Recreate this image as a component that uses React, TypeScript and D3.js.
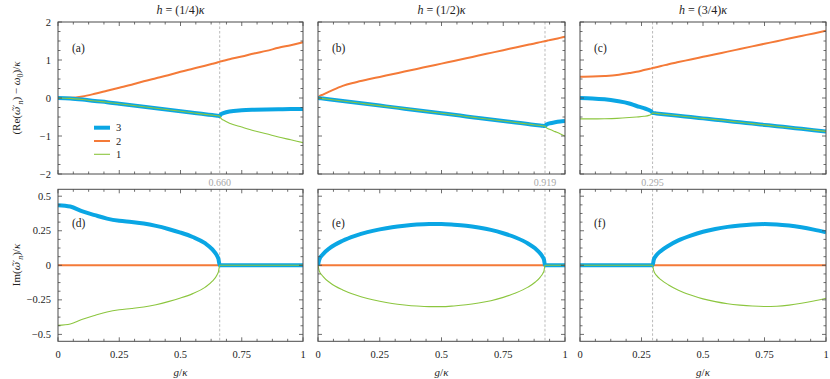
import * as d3 from "d3";

// ==== values ====
// mode 3 = blue (thick), mode 2 = orange, mode 1 = green (thin)

// h = (1/4) kappa
const G_A = [0, 0.05, 0.1, 0.15, 0.2, 0.25, 0.3, 0.35, 0.4, 0.45, 0.5, 0.55, 0.6, 0.63, 0.65, 0.655, 0.66, 0.665, 0.675, 0.7, 0.75, 0.8, 0.85, 0.9, 0.95, 1];
const RE_A_2 = [0, 0.005, 0.04, 0.11, 0.19, 0.27, 0.35, 0.44, 0.52, 0.6, 0.69, 0.77, 0.85, 0.9, 0.935, 0.945, 0.955, 0.965, 0.98, 1.02, 1.09, 1.17, 1.24, 1.32, 1.39, 1.465];
const RE_A_3 = [0, -0.01, -0.04, -0.08, -0.11, -0.15, -0.19, -0.23, -0.27, -0.31, -0.35, -0.39, -0.43, -0.45, -0.465, -0.47, -0.475, -0.43, -0.4, -0.355, -0.325, -0.31, -0.3, -0.295, -0.29, -0.29];
const RE_A_1 = [0, -0.01, -0.04, -0.08, -0.11, -0.15, -0.19, -0.23, -0.27, -0.31, -0.35, -0.39, -0.43, -0.45, -0.465, -0.47, -0.475, -0.535, -0.58, -0.665, -0.765, -0.86, -0.94, -1.025, -1.1, -1.175];
const IM_A_3 = [0.435, 0.425, 0.39, 0.363, 0.338, 0.322, 0.313, 0.302, 0.285, 0.263, 0.237, 0.205, 0.16, 0.115, 0.066, 0.045, 0, 0, 0, 0, 0, 0, 0, 0, 0, 0];
const IM_A_1 = [-0.435, -0.425, -0.39, -0.363, -0.338, -0.322, -0.313, -0.302, -0.285, -0.263, -0.237, -0.205, -0.16, -0.115, -0.066, -0.045, 0, 0, 0, 0, 0, 0, 0, 0, 0, 0];

// h = (1/2) kappa
const G_B = [0, 0.005, 0.02, 0.05, 0.1, 0.15, 0.2, 0.25, 0.3, 0.35, 0.4, 0.45, 0.5, 0.55, 0.6, 0.65, 0.7, 0.75, 0.8, 0.85, 0.88, 0.9, 0.91, 0.915, 0.919, 0.923, 0.93, 0.94, 0.96, 0.98, 1];
const RE_B_2 = [0, 0.04, 0.09, 0.18, 0.32, 0.41, 0.485, 0.555, 0.625, 0.695, 0.765, 0.835, 0.905, 0.975, 1.045, 1.118, 1.188, 1.258, 1.33, 1.4, 1.44, 1.47, 1.483, 1.49, 1.496, 1.502, 1.512, 1.526, 1.554, 1.582, 1.61];
const RE_B_3 = [0, -0.004, -0.016, -0.04, -0.08, -0.12, -0.16, -0.2, -0.24, -0.28, -0.32, -0.36, -0.4, -0.44, -0.485, -0.525, -0.565, -0.605, -0.645, -0.685, -0.71, -0.725, -0.733, -0.737, -0.74, -0.71, -0.685, -0.665, -0.64, -0.62, -0.605];
const RE_B_1 = [0, -0.004, -0.016, -0.04, -0.08, -0.12, -0.16, -0.2, -0.24, -0.28, -0.32, -0.36, -0.4, -0.44, -0.485, -0.525, -0.565, -0.605, -0.645, -0.685, -0.71, -0.725, -0.733, -0.737, -0.74, -0.775, -0.8, -0.83, -0.885, -0.94, -1.0];
const IM_B_3 = [0, 0.04, 0.08, 0.128, 0.178, 0.213, 0.24, 0.26, 0.276, 0.287, 0.295, 0.299, 0.299, 0.294, 0.286, 0.273, 0.256, 0.232, 0.201, 0.158, 0.121, 0.085, 0.059, 0.04, 0, 0, 0, 0, 0, 0, 0];
const IM_B_1 = [0, -0.04, -0.08, -0.128, -0.178, -0.213, -0.24, -0.26, -0.276, -0.287, -0.295, -0.299, -0.299, -0.294, -0.286, -0.273, -0.256, -0.232, -0.201, -0.158, -0.121, -0.085, -0.059, -0.04, 0, 0, 0, 0, 0, 0, 0];

// h = (3/4) kappa
const G_C = [0, 0.05, 0.1, 0.15, 0.2, 0.23, 0.26, 0.28, 0.29, 0.295, 0.3, 0.31, 0.33, 0.36, 0.4, 0.45, 0.5, 0.55, 0.6, 0.65, 0.7, 0.75, 0.8, 0.85, 0.9, 0.95, 1];
const RE_C_2 = [0.56, 0.565, 0.58, 0.605, 0.655, 0.69, 0.735, 0.765, 0.78, 0.79, 0.797, 0.81, 0.84, 0.89, 0.946, 1.014, 1.083, 1.152, 1.22, 1.289, 1.358, 1.427, 1.495, 1.565, 1.633, 1.7, 1.77];
const RE_C_3 = [0, -0.01, -0.035, -0.08, -0.145, -0.21, -0.268, -0.317, -0.352, -0.395, -0.398, -0.405, -0.419, -0.44, -0.467, -0.502, -0.536, -0.57, -0.605, -0.639, -0.674, -0.708, -0.742, -0.777, -0.811, -0.846, -0.88];
const RE_C_1 = [-0.55, -0.55, -0.545, -0.535, -0.515, -0.5, -0.482, -0.457, -0.432, -0.395, -0.398, -0.405, -0.419, -0.44, -0.467, -0.502, -0.536, -0.57, -0.605, -0.639, -0.674, -0.708, -0.742, -0.777, -0.811, -0.846, -0.88];
const IM_C_3 = [0, 0, 0, 0, 0, 0, 0, 0, 0, 0, 0.041, 0.071, 0.106, 0.142, 0.18, 0.215, 0.243, 0.263, 0.278, 0.288, 0.295, 0.298, 0.296, 0.288, 0.275, 0.258, 0.238];
const IM_C_1 = [0, 0, 0, 0, 0, 0, 0, 0, 0, 0, -0.041, -0.071, -0.106, -0.142, -0.18, -0.215, -0.243, -0.263, -0.278, -0.288, -0.295, -0.298, -0.296, -0.288, -0.275, -0.258, -0.238];

// mode 2 stays real everywhere
const IM_2_G = [0, 1];
const IM_2 = [0, 0];

const H_LABELS = ["1/4", "1/2", "3/4"];
const EP_G = [0.66, 0.919, 0.295];
const EP_LABELS = ["0.660", "0.919", "0.295"];
const TAGS_TOP = ["(a)", "(b)", "(c)"];
const TAGS_BOTTOM = ["(d)", "(e)", "(f)"];

const X_TICKS = [0, 0.25, 0.5, 0.75, 1];
const X_TICK_LABELS = ["0", "0.25", "0.5", "0.75", "1"];
const RE_TICKS = [-2, -1, 0, 1, 2];
const RE_TICK_LABELS = ["\u22122", "\u22121", "0", "1", "2"];
const IM_TICKS = [-0.5, -0.25, 0, 0.25, 0.5];
const IM_TICK_LABELS = ["\u22120.5", "\u22120.25", "0", "0.25", "0.5"];

const LEGEND = ["3", "2", "1"];

// ==== look ====
const W = 830;
const H = 379;
const FONT = '"Liberation Serif", "DejaVu Serif", serif';
const SYMBOL_FONT = '"DejaVu Serif", serif'; // handles the combining tilde
const FRAME = "#4a4a4a";
const GRID_GRAY = "#a8a8a8";

const COLORS: Record<string, string> = { "3": "#0aa6e4", "2": "#f47a38", "1": "#8cc63f" };
const WIDTHS: Record<string, number> = { "3": 4, "2": 2, "1": 1.1 };
const DRAW_ORDER = ["2", "3", "1"];

const COL_X = [
  [58, 303],
  [318, 565],
  [580, 826],
];
const ROW_Y = [
  [22, 174],
  [189.3, 341.3],
];

const COLUMNS = [
  { g: G_A, re: { "3": RE_A_3, "2": RE_A_2, "1": RE_A_1 }, im: { "3": IM_A_3, "1": IM_A_1 } },
  { g: G_B, re: { "3": RE_B_3, "2": RE_B_2, "1": RE_B_1 }, im: { "3": IM_B_3, "1": IM_B_1 } },
  { g: G_C, re: { "3": RE_C_3, "2": RE_C_2, "1": RE_C_1 }, im: { "3": IM_C_3, "1": IM_C_1 } },
];

type Series = { key: string; pts: [number, number][] };

const TXT = { fontFamily: FONT, fill: "#222" };

function Panel(props: {
  id: string;
  xr: number[];
  yr: number[];
  yDomain: [number, number];
  yTicks: number[];
  yMinorStep: number;
  yLabels: string[];
  showY: boolean;
  showX: boolean;
  series: Series[];
  ep: number;
  tag: string;
  tagDy: number;
  legend?: boolean;
}) {
  const { id, xr, yr, yDomain, yTicks, yMinorStep, yLabels, showY, showX, series, ep, tag, tagDy, legend } = props;
  const x = d3.scaleLinear().domain([0, 1]).range([xr[0], xr[1]]);
  const y = d3.scaleLinear().domain(yDomain).range([yr[1], yr[0]]);
  const line = d3
    .line<[number, number]>()
    .curve(d3.curveMonotoneX)
    .x((d) => x(d[0]))
    .y((d) => y(d[1]));

  const xMinor = d3.range(0, 1.0001, 1 / 16).filter((v) => !X_TICKS.some((t) => Math.abs(t - v) < 1e-6));
  const start = Math.ceil(yDomain[0] / yMinorStep) * yMinorStep;
  const yMinor = d3
    .range(start, yDomain[1] + 1e-6, yMinorStep)
    .filter((v) => !yTicks.some((t) => Math.abs(t - v) < 1e-6));

  const maj = 4;
  const min = 2.5;

  return (
    <g>
      <defs>
        <clipPath id={id}>
          <rect x={xr[0]} y={yr[0]} width={xr[1] - xr[0]} height={yr[1] - yr[0]} />
        </clipPath>
      </defs>

      {/* exceptional point marker */}
      <line
        x1={x(ep)}
        x2={x(ep)}
        y1={yr[0]}
        y2={yr[1]}
        stroke={GRID_GRAY}
        strokeWidth={0.8}
        strokeDasharray="2.5 2"
      />

      <g clipPath={`url(#${id})`}>
        {series.map((s) => (
          <path
            key={s.key}
            d={line(s.pts) || ""}
            fill="none"
            stroke={COLORS[s.key]}
            strokeWidth={WIDTHS[s.key]}
            strokeLinejoin="round"
          />
        ))}
      </g>

      {/* ticks, all four sides, pointing in */}
      <g stroke={FRAME} strokeWidth={0.8}>
        {X_TICKS.map((t) => (
          <g key={"xm" + t}>
            <line x1={x(t)} x2={x(t)} y1={yr[1]} y2={yr[1] - maj} />
            <line x1={x(t)} x2={x(t)} y1={yr[0]} y2={yr[0] + maj} />
          </g>
        ))}
        {xMinor.map((t) => (
          <g key={"xn" + t}>
            <line x1={x(t)} x2={x(t)} y1={yr[1]} y2={yr[1] - min} />
            <line x1={x(t)} x2={x(t)} y1={yr[0]} y2={yr[0] + min} />
          </g>
        ))}
        {yTicks.map((t) => (
          <g key={"ym" + t}>
            <line x1={xr[0]} x2={xr[0] + maj} y1={y(t)} y2={y(t)} />
            <line x1={xr[1]} x2={xr[1] - maj} y1={y(t)} y2={y(t)} />
          </g>
        ))}
        {yMinor.map((t) => (
          <g key={"yn" + t}>
            <line x1={xr[0]} x2={xr[0] + min} y1={y(t)} y2={y(t)} />
            <line x1={xr[1]} x2={xr[1] - min} y1={y(t)} y2={y(t)} />
          </g>
        ))}
      </g>

      <rect
        x={xr[0]}
        y={yr[0]}
        width={xr[1] - xr[0]}
        height={yr[1] - yr[0]}
        fill="none"
        stroke={FRAME}
        strokeWidth={1}
      />

      {showY &&
        yTicks.map((t, i) => (
          <text key={"yl" + t} x={xr[0] - 7} y={y(t) + 3.6} textAnchor="end" fontSize={10.5} style={TXT}>
            {yLabels[i]}
          </text>
        ))}
      {showX &&
        X_TICKS.map((t, i) => (
          <text key={"xl" + t} x={x(t)} y={yr[1] + 17} textAnchor="middle" fontSize={10.5} style={TXT}>
            {X_TICK_LABELS[i]}
          </text>
        ))}

      <text x={xr[0] + 14} y={yr[0] + tagDy} fontSize={11.5} style={TXT}>
        {tag}
      </text>

      {legend &&
        LEGEND.map((k, i) => (
          <g key={"lg" + k}>
            <line
              x1={94}
              x2={110}
              y1={127.7 + i * 13.3}
              y2={127.7 + i * 13.3}
              stroke={COLORS[k]}
              strokeWidth={WIDTHS[k]}
            />
            <text x={116} y={131.3 + i * 13.3} fontSize={10.5} style={TXT}>
              {k}
            </text>
          </g>
        ))}
    </g>
  );
}

export default function App() {
  return (
    <svg
      width={W}
      height={H}
      viewBox={`0 0 ${W} ${H}`}
      style={{ position: "absolute", left: 0, top: 0, background: "#fff", fontFamily: FONT }}
    >
      {COLUMNS.map((col, c) => {
        const reSeries: Series[] = DRAW_ORDER.map((k) => ({
          key: k,
          pts: col.g.map((g, i) => [g, (col.re as any)[k][i]] as [number, number]),
        }));
        const imSeries: Series[] = DRAW_ORDER.map((k) => ({
          key: k,
          pts:
            k === "2"
              ? IM_2_G.map((g, i) => [g, IM_2[i]] as [number, number])
              : col.g.map((g, i) => [g, (col.im as any)[k][i]] as [number, number]),
        }));
        const xr = COL_X[c];
        const cx = (xr[0] + xr[1]) / 2;
        const epX = d3.scaleLinear().domain([0, 1]).range([xr[0], xr[1]])(EP_G[c]);
        return (
          <g key={c}>
            <text x={cx} y={14} textAnchor="middle" fontSize={12} style={TXT}>
              <tspan fontStyle="italic">h</tspan>
              {" = (" + H_LABELS[c] + ")"}
              <tspan fontStyle="italic">κ</tspan>
            </text>
            <Panel
              id={"clipT" + c}
              xr={xr}
              yr={ROW_Y[0]}
              yDomain={[-2, 2]}
              yTicks={RE_TICKS}
              yMinorStep={0.25}
              yLabels={RE_TICK_LABELS}
              showY={c === 0}
              showX={false}
              series={reSeries}
              ep={EP_G[c]}
              tag={TAGS_TOP[c]}
              tagDy={30}
              legend={c === 0}
            />
            <Panel
              id={"clipB" + c}
              xr={xr}
              yr={ROW_Y[1]}
              yDomain={[-0.55, 0.55]}
              yTicks={IM_TICKS}
              yMinorStep={0.0625}
              yLabels={IM_TICK_LABELS}
              showY={c === 0}
              showX={true}
              series={imSeries}
              ep={EP_G[c]}
              tag={TAGS_BOTTOM[c]}
              tagDy={38}
            />
            <text x={epX} y={186} textAnchor="middle" fontSize={10} style={{ fontFamily: FONT, fill: GRID_GRAY }}>
              {EP_LABELS[c]}
            </text>
            <text x={cx} y={376} textAnchor="middle" fontSize={11} style={TXT}>
              <tspan fontStyle="italic">g</tspan>/<tspan fontStyle="italic">κ</tspan>
            </text>
          </g>
        );
      })}

      <text transform="translate(20,98) rotate(-90)" textAnchor="middle" fontSize={11} style={TXT}>
        (Re(
        <tspan fontStyle="italic" fontSize={10} style={{ fontFamily: SYMBOL_FONT }}>
          ω̃′
        </tspan>
        <tspan dy={3} fontSize={8} fontStyle="italic">n</tspan>
        <tspan dy={-3}>) − </tspan>
        <tspan fontStyle="italic">ω</tspan>
        <tspan dy={3} fontSize={8}>0</tspan>
        <tspan dy={-3}>)/</tspan>
        <tspan fontStyle="italic">κ</tspan>
      </text>
      <text transform="translate(20,265) rotate(-90)" textAnchor="middle" fontSize={11} style={TXT}>
        Im(
        <tspan fontStyle="italic" fontSize={10} style={{ fontFamily: SYMBOL_FONT }}>
          ω̃′
        </tspan>
        <tspan dy={3} fontSize={8} fontStyle="italic">n</tspan>
        <tspan dy={-3}>)/</tspan>
        <tspan fontStyle="italic">κ</tspan>
      </text>
    </svg>
  );
}
